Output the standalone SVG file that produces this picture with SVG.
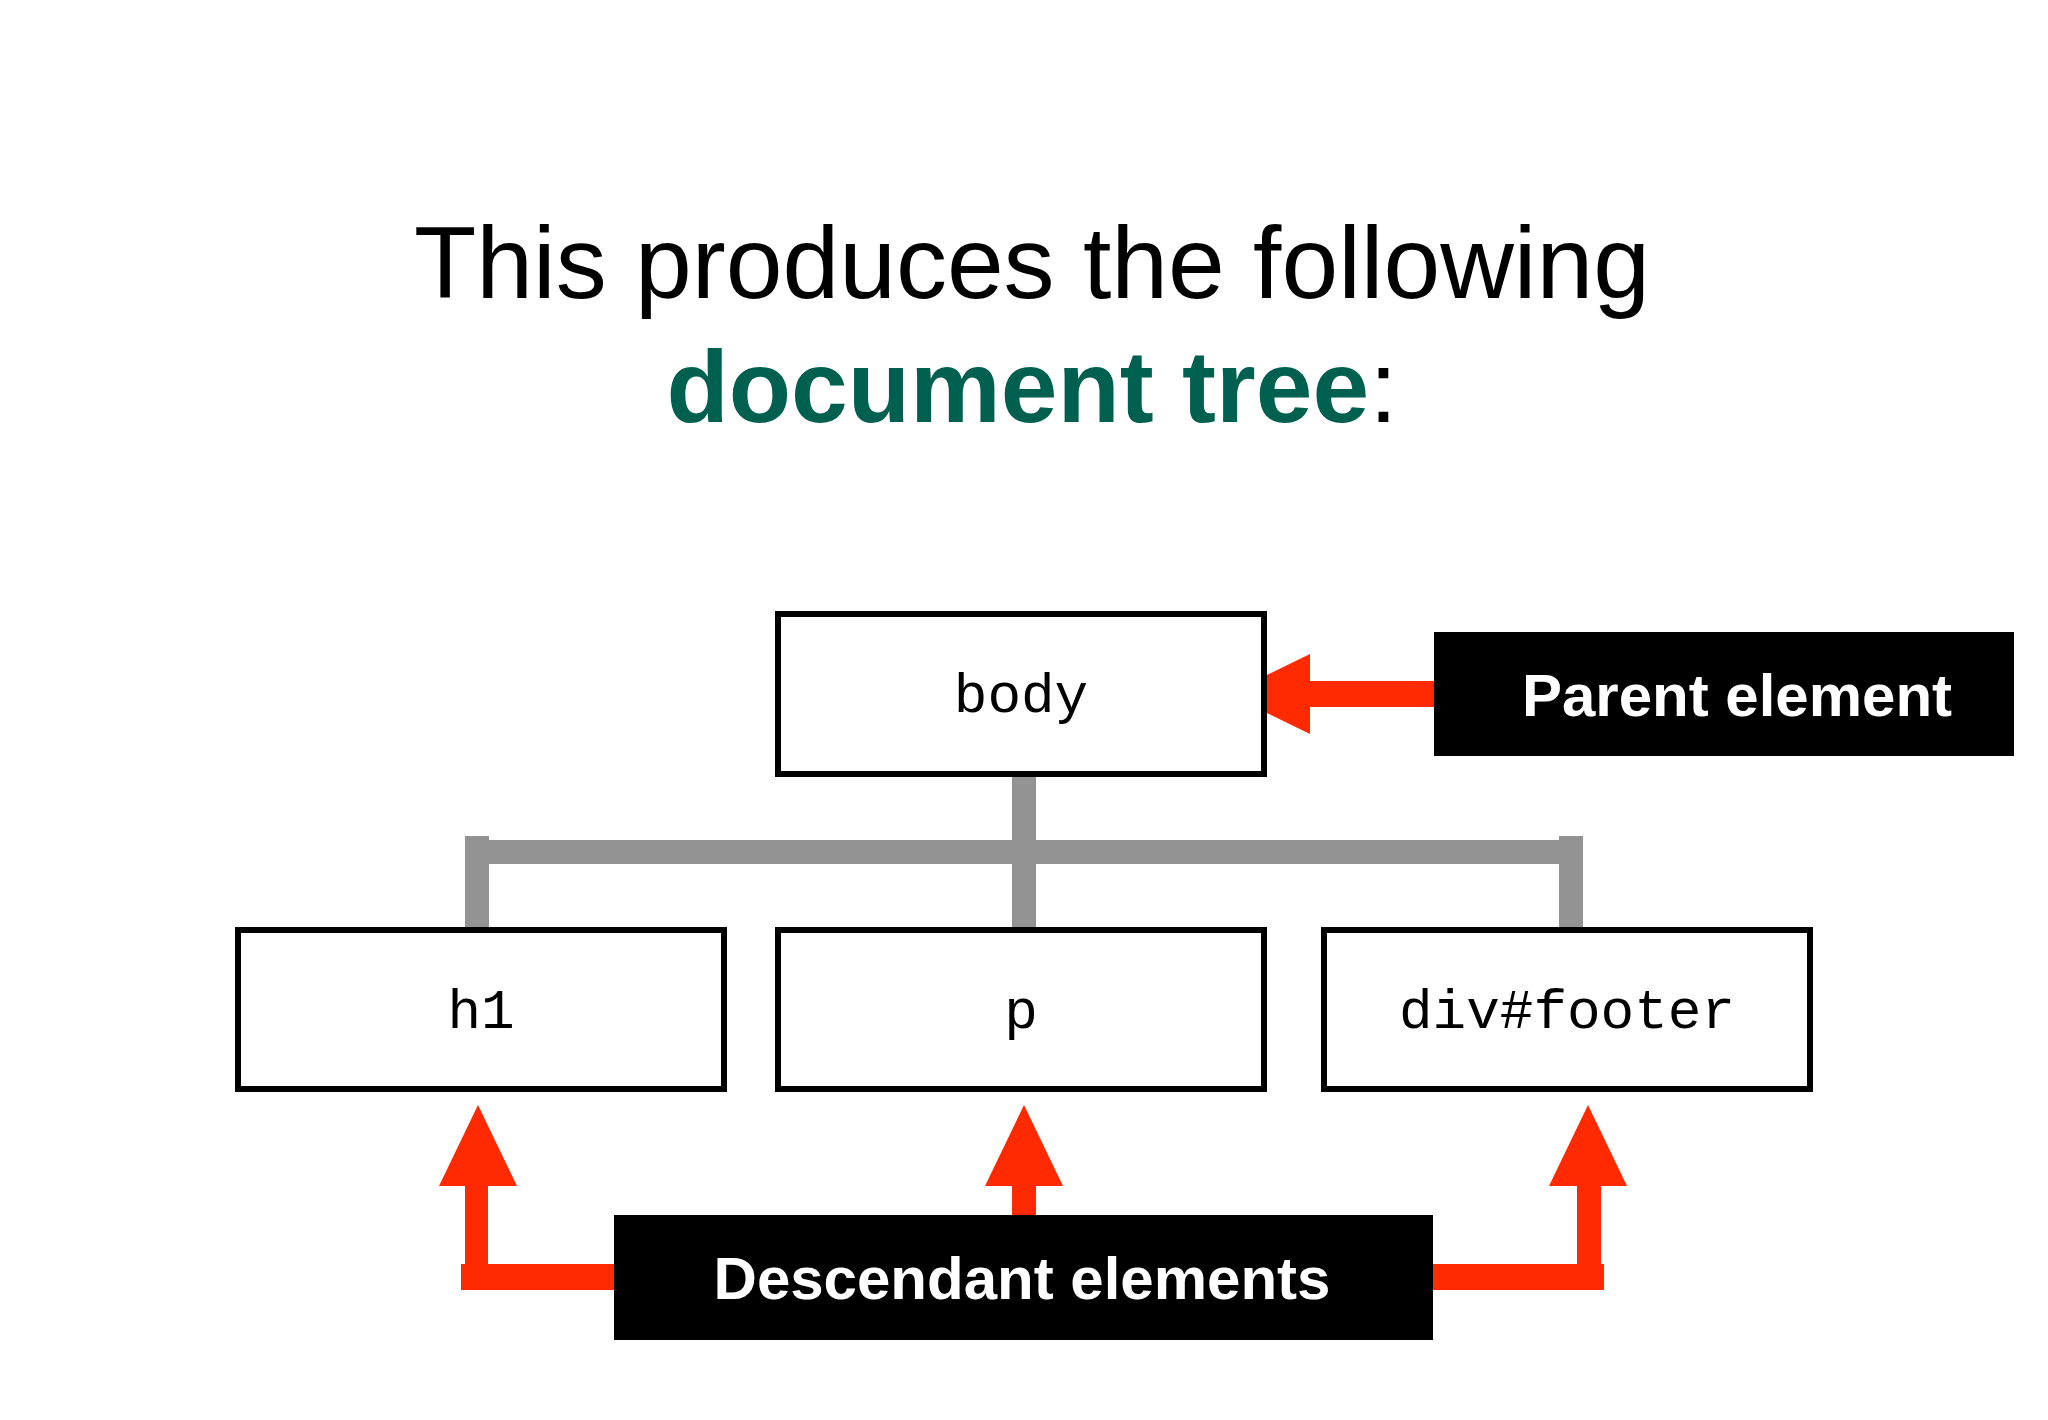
<svg xmlns="http://www.w3.org/2000/svg" width="2048" height="1420" viewBox="0 0 2048 1420">
<style>
.box{fill:#fff;stroke:#000;stroke-width:6}
.mono{font-family:"Liberation Mono",monospace;font-size:56px;text-anchor:middle;fill:#000}
.lbl{font-family:"Liberation Sans",Arial,sans-serif;font-weight:bold;font-size:60px;fill:#fff;text-anchor:middle}
.red{fill:#ff2a00}
.gray{fill:#939393}
</style>
<rect width="2048" height="1420" fill="#fff"/>
<g id="title" font-family="Liberation Sans, Arial, sans-serif" text-anchor="middle">
<text x="1032" y="298" font-size="102" fill="#000">This produces the following</text>
<text x="1032" y="422" font-size="102" font-weight="bold"><tspan fill="#00604f">document tree</tspan><tspan fill="#000" font-weight="normal">:</tspan></text>
</g>
<g id="connectors">
<rect class="gray" x="1012" y="774" width="24" height="156"/>
<rect class="gray" x="465" y="840" width="1118" height="24"/>
<rect class="gray" x="465" y="836" width="24" height="94"/>
<rect class="gray" x="1559" y="836" width="24" height="94"/>
<polygon class="red" points="1228,694 1310,654 1310,681 1434,681 1434,707 1310,707 1310,734"/>
<polygon class="red" points="478,1105 517,1186 488,1186 488,1264 614,1264 614,1290 461,1290 461,1264 465,1264 465,1186 439,1186"/>
<polygon class="red" points="1024,1105 1063,1186 1036,1186 1036,1215 1012,1215 1012,1186 985,1186"/>
<polygon class="red" points="1588,1105 1627,1186 1601,1186 1601,1264 1604,1264 1604,1290 1433,1290 1433,1264 1577,1264 1577,1186 1549,1186"/>
</g>
<g id="body"><rect class="box" x="778" y="614" width="486" height="160"/><text class="mono" x="1021" y="712">body</text></g>
<g id="h1"><rect class="box" x="238" y="930" width="486" height="159"/><text class="mono" x="481" y="1028">h1</text></g>
<g id="p"><rect class="box" x="778" y="930" width="486" height="159"/><text class="mono" x="1021" y="1028">p</text></g>
<g id="footer"><rect class="box" x="1324" y="930" width="486" height="159"/><text class="mono" x="1567" y="1028">div#footer</text></g>
<g id="parent"><rect x="1434" y="632" width="580" height="124" fill="#000"/><text class="lbl" x="1737" y="716">Parent element</text></g>
<g id="descendant"><rect x="614" y="1215" width="819" height="125" fill="#000"/><text class="lbl" x="1022" y="1299">Descendant elements</text></g>
</svg>
